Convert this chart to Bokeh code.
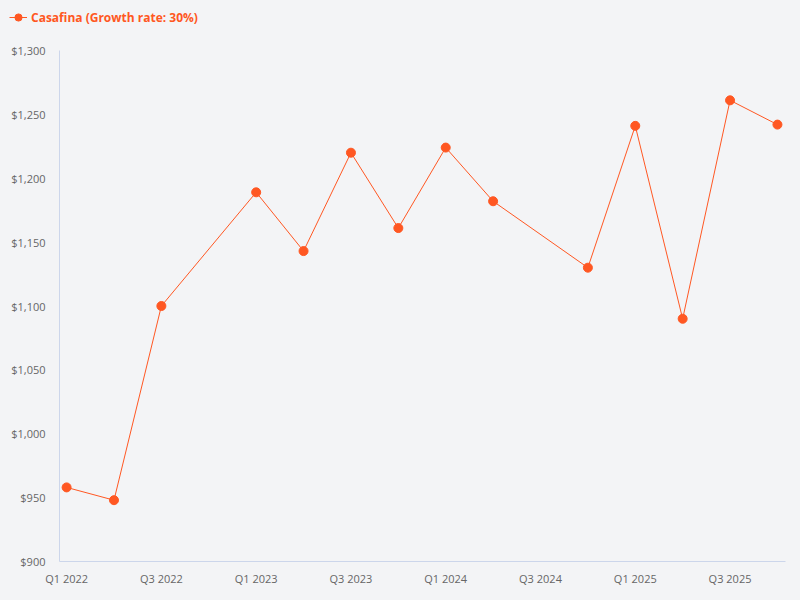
from bokeh.plotting import figure
from bokeh.layouts import column, row
from bokeh.models import FixedTicker, Range1d, Legend, LegendItem, NumeralTickFormatter, ColumnDataSource
from bokeh.embed import file_html
from bokeh.resources import INLINE

# ---- data ----
all_quarters = ["Q1 2022", "Q2 2022", "Q3 2022", "Q4 2022",
                "Q1 2023", "Q2 2023", "Q3 2023", "Q4 2023",
                "Q1 2024", "Q2 2024", "Q3 2024", "Q4 2024",
                "Q1 2025", "Q2 2025", "Q3 2025", "Q4 2025"]
quarters = ["Q1 2022", "Q2 2022", "Q3 2022",
            "Q1 2023", "Q2 2023", "Q3 2023", "Q4 2023",
            "Q1 2024", "Q2 2024", "Q4 2024",
            "Q1 2025", "Q2 2025", "Q3 2025", "Q4 2025"]
values = [958, 948, 1100, 1189, 1143, 1220, 1161, 1224, 1182, 1130, 1241, 1090, 1261, 1242]
tick_labels = ["Q1 2022", "Q3 2022", "Q1 2023", "Q3 2023", "Q1 2024", "Q3 2024", "Q1 2025", "Q3 2025"]
y_ticks = [900, 950, 1000, 1050, 1100, 1150, 1200, 1250, 1300]
series_name = "Casafina (Growth rate: 30%)"

COLOR = "#ff5722"
BG = "#f3f4f6"
FONT = "Open Sans"

idx = {q: i for i, q in enumerate(all_quarters)}
xs = [idx[q] for q in quarters]
src = ColumnDataSource(data=dict(x=xs, y=values))

# ---- main chart ----
p = figure(width=800, height=566, output_backend="svg", toolbar_location=None,
           x_range=Range1d(-0.15, 15.17), y_range=Range1d(900, 1300),
           background_fill_color=BG, border_fill_color=BG,
           min_border_left=59, min_border_right=15, min_border_top=16, min_border_bottom=39)
p.outline_line_color = None
p.xgrid.grid_line_color = None
p.ygrid.grid_line_color = None

line = p.line("x", "y", source=src, line_color=COLOR, line_width=1)
pts = p.scatter("x", "y", source=src, size=9, fill_color=COLOR, line_color=COLOR)

tick_pos = [idx[t] for t in tick_labels]
p.xaxis.ticker = FixedTicker(ticks=tick_pos)
p.xaxis.major_label_overrides = {idx[t]: t for t in tick_labels}
p.yaxis.ticker = FixedTicker(ticks=y_ticks)
p.yaxis.formatter = NumeralTickFormatter(format="$0,0")

for ax in (p.xaxis[0], p.yaxis[0]):
    ax.axis_line_color = "#ccd6eb"
    ax.axis_line_width = 1
    ax.major_tick_line_color = None
    ax.minor_tick_line_color = None
    ax.major_tick_out = 0
    ax.major_tick_in = 0
    ax.minor_tick_out = 0
    ax.major_label_text_color = "#666666"
    ax.major_label_text_font = FONT
    ax.major_label_text_font_size = "11px"
p.xaxis.major_label_standoff = 9
p.yaxis.major_label_standoff = 14

# ---- legend strip above the chart (series drawn off-view, only its legend shows) ----
lg = figure(width=800, height=34, output_backend="svg", toolbar_location=None,
            x_axis_type=None, y_axis_type=None,
            x_range=Range1d(0, 1), y_range=Range1d(0, 1),
            background_fill_color=BG, border_fill_color=BG,
            min_border=0)
lg.outline_line_color = None
lg.grid.grid_line_color = None
lg_line = lg.line("x", "y", source=src, line_color=COLOR, line_width=1)
lg_pts = lg.scatter("x", "y", source=src, size=9, fill_color=COLOR, line_color=COLOR)

legend = Legend(items=[LegendItem(label=series_name, renderers=[lg_line, lg_pts])],
                location=(9, 8), orientation="horizontal",
                background_fill_alpha=0, border_line_alpha=0,
                margin=0, padding=0, glyph_width=18, glyph_height=18,
                label_standoff=4, label_text_font=FONT, label_text_font_style="bold",
                label_text_font_size="12px", label_text_color=COLOR,
                label_height=18)
lg.add_layout(legend, "center")

layout = column(row(lg, spacing=0), p, spacing=0, styles={"background-color": BG})
open("out.html", "w").write(file_html(layout, INLINE))
